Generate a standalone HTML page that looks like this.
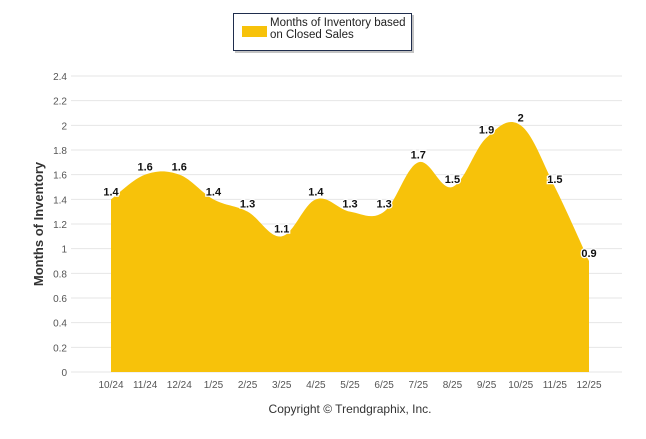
<!DOCTYPE html>
<html><head><meta charset="utf-8"><style>
body{margin:0;background:#fff;width:646px;height:434px;overflow:hidden;font-family:"Liberation Sans",sans-serif}
</style></head><body>
<svg id="chart" width="646" height="434" xmlns="http://www.w3.org/2000/svg">
<g id="grid"></g>
<path id="area" fill="#f7c20a"/>
<g id="labels"></g>
<text transform="translate(43,224) rotate(-90)" text-anchor="middle" font-size="13" font-weight="bold" fill="#333">Months of Inventory</text>
<text x="350" y="413" text-anchor="middle" font-size="12" fill="#333">Copyright © Trendgraphix, Inc.</text>
<g>
<rect x="235" y="15" width="179" height="38" fill="#888" opacity="0.5"/>
<rect x="233.5" y="13.5" width="178" height="37" fill="#fff" stroke="#1f2d4d"/>
<rect x="242" y="26" width="25" height="11" fill="#f7c20a"/>
<text x="270" y="26" font-size="11.5" fill="#222">Months of Inventory based</text>
<text x="270" y="38" font-size="11.5" fill="#222">on Closed Sales</text>
</g>
</svg>
<script>
const categories=["10/24","11/24","12/24","1/25","2/25","3/25","4/25","5/25","6/25","7/25","8/25","9/25","10/25","11/25","12/25"];
const values=[1.4,1.6,1.6,1.4,1.3,1.1,1.4,1.3,1.3,1.7,1.5,1.9,2,1.5,0.9];
const yTicks=[0,0.2,0.4,0.6,0.8,1,1.2,1.4,1.6,1.8,2,2.2,2.4];
const NS="http://www.w3.org/2000/svg";
const x0=111,dx=(589-111)/14,yZero=372,yTop=76,yMax=2.4;
const X=i=>x0+i*dx, Y=v=>yZero-(v/yMax)*(yZero-yTop);
const grid=document.getElementById('grid'),lab=document.getElementById('labels');
function mk(t,a,p){const e=document.createElementNS(NS,t);for(const k in a)e.setAttribute(k,a[k]);p.appendChild(e);return e;}
yTicks.forEach(v=>{
 const l=mk('line',{x1:71,x2:622,y1:Y(v),y2:Y(v),stroke:'#e6e6e6','stroke-width':1},grid);
 
 
 const t=mk('text',{x:67,y:Y(v)+4,'text-anchor':'end','font-size':10,fill:'#555'},grid);
 
 
 t.textContent=String(v);
});
categories.forEach((c,i)=>{
 const t=mk('text',{x:X(i),y:388,'text-anchor':'middle','font-size':10,fill:'#555'},grid);
 
 
 t.textContent=c;
});
const pts=values.map((v,i)=>[X(i),Y(v)]);
let d=`M${pts[0][0]},${yZero}L${pts[0][0]},${pts[0][1]}`;
const s=0.18;
for(let i=0;i<pts.length-1;i++){
 const p0=pts[Math.max(0,i-1)],p1=pts[i],p2=pts[i+1],p3=pts[Math.min(pts.length-1,i+2)];
 const c1=[p1[0]+(p2[0]-p0[0])*s,p1[1]+(p2[1]-p0[1])*s];
 const c2=[p2[0]-(p3[0]-p1[0])*s,p2[1]-(p3[1]-p1[1])*s];
 d+=`C${c1[0]},${c1[1]} ${c2[0]},${c2[1]} ${p2[0]},${p2[1]}`;
}
d+=`L${pts[pts.length-1][0]},${yZero}Z`;
document.getElementById('area').setAttribute('d',d);
values.forEach((v,i)=>{
 const t=mk('text',{x:X(i),y:Y(v)-4,'text-anchor':'middle','font-size':11,'font-weight':'bold',fill:'#111',stroke:'#fff','stroke-width':2.5,'paint-order':'stroke'},lab);
 
 
 t.textContent=String(v);
});
</script>
</body></html>
